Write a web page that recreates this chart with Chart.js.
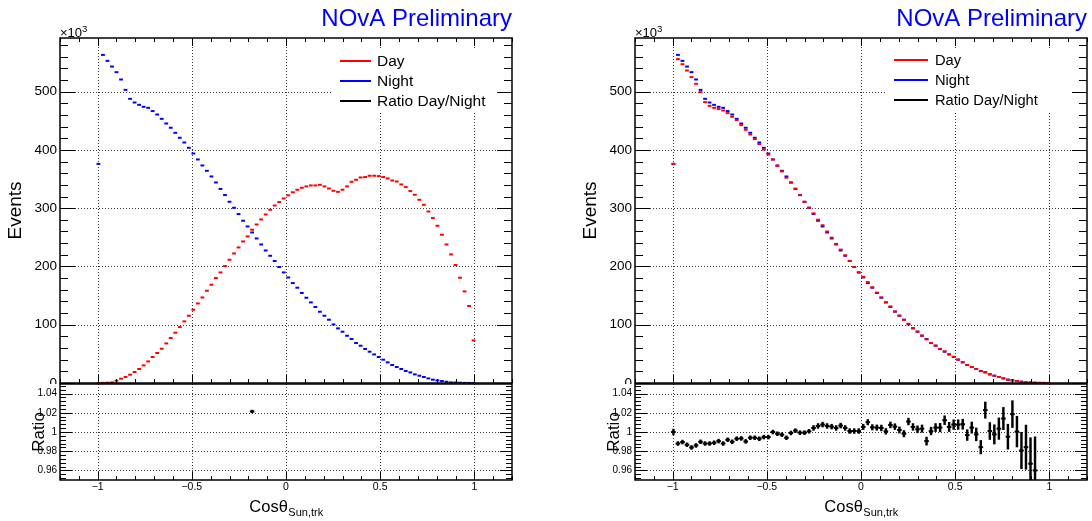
<!DOCTYPE html>
<html>
<head>
<meta charset="utf-8">
<title>Day / Night cos theta</title>
<script src="https://cdn.jsdelivr.net/npm/chart.js@4.4.0/dist/chart.umd.min.js"></script>
<style>
  html, body { margin: 0; padding: 0; background: #fff; overflow: hidden; }
  #page { position: relative; width: 1092px; height: 521px; }
  canvas { position: absolute; }
</style>
</head>
<body>
<div id="page">
  <canvas id="mainLeft" width="575" height="384" style="left:0px;top:0px"></canvas>
  <canvas id="ratioLeft" width="575" height="143" style="left:0px;top:378px"></canvas>
  <canvas id="mainRight" width="517" height="384" style="left:575px;top:0px"></canvas>
  <canvas id="ratioRight" width="517" height="143" style="left:575px;top:378px"></canvas>
</div>
<script>
// histogram binning: 100 bins on [-1.2, 1.2], filled bins start at bin 8 (centre -0.996)
const binLow = -1.2;
const binWidth = 0.024;
const firstFilledBin = 8;

const xTicks = [-1, -0.5, 0, 0.5, 1];
const eventTicks = [0, 100, 200, 300, 400, 500];
const ratioTicks = [0.96, 0.98, 1, 1.02, 1.04];

const legendLabels = ["Day", "Night", "Ratio Day/Night"];
const seriesColors = ["#ff0000", "#0000ff", "#000000"];

// events per bin, in units of 10^3
const nightEvents = [
  376, 563, 552.8, 543, 533.4, 520.8, 503, 487.6, 481.3, 477.3,
  473.9, 472.2, 466.6, 460.7, 453.3, 445.3, 438, 429.3, 420.8, 412.7,
  403.6, 393.8, 383.6, 373.3, 364.1, 354.4, 344.1, 333, 322.5, 311,
  300.7, 289.9, 278.4, 268.6, 258.3, 248, 237.7, 227.4, 218.3, 209.3,
  199, 189.7, 181.1, 171.5, 163.5, 154.4, 146.3, 138.3, 130.4, 122.3,
  115.4, 108.6, 100.5, 93.7, 88, 81.1, 75.5, 68.6, 64, 58.3,
  53.7, 49, 44.6, 40, 35.4, 30.9, 27.4, 24, 20.6, 18.2,
  14.8, 12.5, 10.3, 7.9, 5.7, 4.5, 3.4, 2.2, 1.0, 0.9,
  0.5, 0.2, 0.1, 0
];

// left: raw day sample
const dayEventsLeft = [
  0, 0.2, 0.5, 1.0, 3.9, 7.4, 10.3, 14.2, 18.9, 24,
  30.2, 37, 44.6, 51.5, 58.8, 67.9, 77.2, 86.3, 96, 105.7,
  115.4, 125.7, 136.5, 146.8, 158.3, 168.6, 180.1, 189.7, 200.7, 211.5,
  222.3, 232.6, 242.9, 251.5, 263, 272, 280.6, 289.2, 297.3, 304.6,
  310.5, 316.6, 322, 327.3, 331.6, 335, 337.3, 339, 339, 340,
  337.3, 333.8, 329.8, 328, 331.6, 337.3, 345.3, 348.7, 352.7, 353.4,
  355.6, 355.6, 355, 353.4, 351, 347.5, 345.8, 340.7, 336.2, 329.3,
  323, 314.4, 305.8, 294.3, 283, 269.8, 254.4, 237.7, 220.6, 202.4,
  180.6, 157.1, 132.1, 73
];

// right: day sample after reweighting
const dayEventsRight = [
  376, 555.7, 547, 536.2, 524.9, 513.4, 499.1, 482, 475.6, 472.2,
  470, 467.6, 463.1, 456.8, 451.1, 442.5, 434.5, 426.4, 418.5, 410,
  400.7, 392.1, 383.6, 372.6, 363.1, 352.3, 343.8, 333.5, 322.3, 310.8,
  300.9, 291.1, 280.2, 270.7, 259.9, 249.4, 238.7, 228.9, 219.2, 209.5,
  199.2, 189.9, 182.1, 173.2, 164.3, 155.1, 146.9, 138.4, 131.4, 123.0,
  115.6, 108.4, 101.6, 94.2, 88.2, 81.4, 74.8, 68.7, 64.3, 58.6,
  54.4, 49.3, 44.9, 40.3, 35.7, 30.8, 27.5, 23.9, 20.3, 18.6,
  14.8, 12.5, 10.3, 8.0, 5.7, 4.6, 3.4, 2.2, 1.0, 0.9,
  0.5, 0.3, 0.2, 0.1
];

// Day/Night ratio, right panel (filled bins 0..80)
const ratioRight = [
  1.000, 0.988, 0.9895, 0.9867, 0.9839, 0.986, 0.9898, 0.988, 0.988, 0.9888,
  0.9905, 0.988, 0.9919, 0.9898, 0.993, 0.9933, 0.9902, 0.994, 0.994, 0.993,
  0.9947, 0.9947, 1.000, 0.9982, 0.9972, 0.994, 0.999, 1.0014, 0.9993, 0.9993,
  1.0007, 1.0042, 1.0063, 1.0077, 1.0063, 1.0056, 1.0042, 1.0067, 1.0042, 1.001,
  1.001, 1.001, 1.0053, 1.0102, 1.0049, 1.0046, 1.0042, 1.0007, 1.0074, 1.0056,
  1.0021, 0.9982, 1.0109, 1.0053, 1.0028, 1.0035, 0.9905, 1.001, 1.0046, 1.0046,
  1.0123, 1.0053, 1.0077, 1.0077, 1.0081, 0.9968, 1.0046, 0.9975, 0.9842, 1.0228,
  1.001, 0.9975, 1.0035, 1.014, 0.9951, 1.0186, 1.0004, 0.9807, 0.9842, 0.967,
  0.96
];
const ratioRightErr = [
  0.003, 0.002, 0.002, 0.002, 0.002, 0.002, 0.002, 0.002, 0.002, 0.002,
  0.002, 0.002, 0.002, 0.002, 0.002, 0.002, 0.002, 0.002, 0.002, 0.002,
  0.002, 0.002, 0.002, 0.002, 0.002, 0.002, 0.002, 0.002, 0.002, 0.002,
  0.002, 0.0025, 0.0025, 0.0025, 0.0025, 0.0025, 0.0025, 0.0025, 0.0025, 0.0025,
  0.0025, 0.0025, 0.0028, 0.0028, 0.0028, 0.0028, 0.003, 0.003, 0.003, 0.003,
  0.0032, 0.0033, 0.0035, 0.0035, 0.0036, 0.0038, 0.0042, 0.004, 0.0042, 0.0044,
  0.0046, 0.0048, 0.005, 0.005, 0.0052, 0.0056, 0.0058, 0.0067, 0.007, 0.0084,
  0.0088, 0.010, 0.0112, 0.0116, 0.013, 0.014, 0.016, 0.019, 0.023, 0.027,
  0.035
];

// Day/Night ratio, left panel: only one bin falls inside the 0.95-1.05 window
const ratioLeftBins = [34];
const ratioLeft = [1.0214];
const ratioLeftErr = [0.0014];

const FONT = "'Liberation Sans', Arial, Helvetica, sans-serif";
Chart.defaults.font.family = FONT;
Chart.defaults.color = "#000";
Chart.defaults.animation = false;
Chart.defaults.events = [];
Chart.defaults.plugins.legend.display = false;
Chart.defaults.plugins.tooltip.enabled = false;

function binCentre(j) {
  return binLow + binWidth * (firstFilledBin + j + 0.5);
}

function steps(min, max, step) {
  const out = [];
  for (let k = Math.ceil(min / step - 1e-6); k * step <= max + 1e-9; k++) out.push(k * step);
  return out;
}

function isMajor(v, major) {
  const q = v / major;
  return Math.abs(q - Math.round(q)) < 1e-6;
}

function formatX(v) {
  if (v === 0) return "0";
  return (v < 0 ? "\u2212" : "") + Math.abs(v);
}

// ROOT-like pad: dotted grid, inward ticks, frame, legend and texts
const rootPad = {
  id: "rootPad",
  beforeDatasetsDraw(chart, args, o) {
    const ctx = chart.ctx;
    const a = chart.chartArea;
    const x = chart.scales.x;
    const y = chart.scales.y;
    ctx.save();
    ctx.strokeStyle = "#3a3a3a";
    ctx.lineWidth = 1;
    ctx.setLineDash([1, 2]);
    ctx.beginPath();
    xTicks.forEach(v => {
      const px = Math.round(x.getPixelForValue(v)) + 0.5;
      ctx.moveTo(px, a.top);
      ctx.lineTo(px, a.bottom);
    });
    o.gridY.forEach(v => {
      const py = Math.round(y.getPixelForValue(v)) + 0.5;
      ctx.moveTo(a.left, py);
      ctx.lineTo(a.right, py);
    });
    ctx.stroke();
    ctx.restore();
  },
  afterDatasetsDraw(chart, args, o) {
    const ctx = chart.ctx;
    const a = chart.chartArea;
    const x = chart.scales.x;
    const y = chart.scales.y;
    ctx.save();

    // legend box sits over the grid
    if (o.legend) {
      const L = o.legend;
      ctx.fillStyle = "#fff";
      ctx.fillRect(L.box[0], L.box[1], L.box[2], L.box[3]);
      ctx.font = L.size + "px " + FONT;
      ctx.textAlign = "left";
      ctx.textBaseline = "middle";
      legendLabels.forEach((label, i) => {
        ctx.strokeStyle = seriesColors[i];
        ctx.lineWidth = 2;
        ctx.beginPath();
        ctx.moveTo(L.lineX[0], L.rowY[i]);
        ctx.lineTo(L.lineX[1], L.rowY[i]);
        ctx.stroke();
        ctx.fillStyle = "#000";
        ctx.fillText(label, L.textX, L.rowY[i] + 1);
      });
    }

    // inward ticks
    ctx.strokeStyle = "#000";
    ctx.lineWidth = 1;
    ctx.beginPath();
    steps(x.min, x.max, 0.1).forEach(v => {
      const px = Math.round(x.getPixelForValue(v)) + 0.5;
      const len = isMajor(v, 0.5) ? o.xTick[0] : o.xTick[1];
      ctx.moveTo(px, a.bottom);
      ctx.lineTo(px, a.bottom - len);
      if (o.topTicks) {
        ctx.moveTo(px, a.top);
        ctx.lineTo(px, a.top + len);
      }
    });
    steps(y.min, y.max, o.yMinor).forEach(v => {
      const py = Math.round(y.getPixelForValue(v)) + 0.5;
      const len = isMajor(v, o.yMajor) ? o.yTick[0] : o.yTick[1];
      ctx.moveTo(a.left, py);
      ctx.lineTo(a.left + len, py);
      ctx.moveTo(a.right, py);
      ctx.lineTo(a.right - len, py);
    });
    ctx.stroke();

    ctx.lineWidth = 1.5;
    ctx.strokeRect(a.left, a.top, a.right - a.left, a.bottom - a.top);

    // plain and rotated texts
    (o.texts || []).forEach(t => {
      ctx.save();
      ctx.fillStyle = t.color || "#000";
      ctx.font = t.size + "px " + FONT;
      ctx.textAlign = t.align || "left";
      ctx.textBaseline = t.baseline || "alphabetic";
      ctx.translate(t.x, t.y);
      if (t.rotate) ctx.rotate(-Math.PI / 2);
      ctx.fillText(t.text, 0, 0);
      ctx.restore();
    });

    // x10^3 multiplier
    if (o.exponent) {
      const e = o.exponent;
      ctx.fillStyle = "#000";
      ctx.textAlign = "left";
      ctx.textBaseline = "alphabetic";
      ctx.font = "13px " + FONT;
      ctx.fillText("\u00d710", e.x, e.y);
      const w = ctx.measureText("\u00d710").width;
      ctx.font = "9.5px " + FONT;
      ctx.fillText("3", e.x + w, e.y - 5.5);
    }

    // Cos theta_{Sun,trk}
    if (o.xTitle) {
      const t = o.xTitle;
      ctx.fillStyle = "#000";
      ctx.textAlign = "left";
      ctx.textBaseline = "alphabetic";
      ctx.font = "16.5px " + FONT;
      const w1 = ctx.measureText("Cos\u03b8").width;
      ctx.font = "11px " + FONT;
      const w2 = ctx.measureText("Sun,trk").width;
      const x0 = t.x - (w1 + w2) / 2;
      ctx.font = "16.5px " + FONT;
      ctx.fillText("Cos\u03b8", x0, t.y);
      ctx.font = "11px " + FONT;
      ctx.fillText("Sun,trk", x0 + w1 + 0.5, t.y + 4.5);
    }
    ctx.restore();
  }
};

function histDataset(label, values, color) {
  return {
    label: label,
    data: values.map((v, j) => ({ x: binCentre(j), y: v })),
    pointStyle: "line",
    pointRadius: 1.9,
    pointBorderWidth: 2,
    pointBorderColor: color,
    pointBackgroundColor: color,
    borderColor: color,
    showLine: false
  };
}

function yAxis(min, max, ticks, size, fmt) {
  return {
    type: "linear",
    min: min,
    max: max,
    offset: false,
    grid: { display: false, drawTicks: false },
    border: { display: false },
    afterBuildTicks: ax => { ax.ticks = ticks.map(value => ({ value })); },
    afterFit: ax => { ax.width = 60; ax.paddingTop = 0; ax.paddingBottom = 0; },
    ticks: { font: { size: size }, color: "#000", padding: 3, autoSkip: false, callback: fmt }
  };
}

function mainPanel(id, dayValues, padRight, legend) {
  return new Chart(document.getElementById(id), {
    type: "scatter",
    data: {
      datasets: [
        histDataset(legendLabels[0], dayValues, seriesColors[0]),
        histDataset(legendLabels[1], nightEvents, seriesColors[1])
      ]
    },
    options: {
      responsive: false,
      layout: { padding: { top: 38, right: padRight, bottom: 1, left: 0 }, autoPadding: false },
      scales: {
        x: { type: "linear", min: -1.2, max: 1.2, offset: false, display: false },
        y: yAxis(0, 592, eventTicks, 13.5, v => String(v))
      },
      plugins: {
        rootPad: {
          gridY: eventTicks.slice(1),
          xTick: [8, 4],
          yTick: [15, 8],
          yMinor: 20,
          yMajor: 100,
          topTicks: true,
          legend: legend,
          exponent: { x: 60, y: 37 },
          texts: [
            { text: "NOvA Preliminary", x: 512, y: 26, size: 24, color: "#0000ff", align: "right" },
            { text: "Events", x: 16, y: 210.5, size: 19, align: "center", baseline: "middle", rotate: true }
          ]
        }
      }
    },
    plugins: [rootPad]
  });
}

function ratioPanel(id, bins, values, errors, padRight) {
  const centres = bins.map(binCentre);
  const points = values.map((r, i) => ({ x: centres[i], y: r }));
  return new Chart(document.getElementById(id), {
    type: "scatter",
    data: {
      datasets: [
        {
          type: "bar",
          label: legendLabels[2],
          data: values.map((r, i) => ({ x: centres[i], y: [r - errors[i], r + errors[i]] })),
          backgroundColor: seriesColors[2],
          borderWidth: 0,
          barThickness: 1.8,
          grouped: false
        },
        {
          label: legendLabels[2],
          data: points,
          pointStyle: "line",
          pointRadius: 2.3,
          pointBorderWidth: 2,
          pointBorderColor: seriesColors[2]
        },
        {
          label: legendLabels[2],
          data: points,
          pointStyle: "circle",
          pointRadius: 1.3,
          pointBorderWidth: 0,
          pointBackgroundColor: seriesColors[2]
        }
      ]
    },
    options: {
      responsive: false,
      layout: { padding: { top: 6, right: padRight, bottom: 0, left: 0 }, autoPadding: false },
      scales: {
        x: {
          type: "linear",
          min: -1.2,
          max: 1.2,
          offset: false,
          grid: { display: false, drawTicks: false },
          border: { display: false },
          afterBuildTicks: ax => { ax.ticks = xTicks.map(value => ({ value })); },
          afterFit: ax => { ax.height = 41; ax.paddingLeft = 0; ax.paddingRight = 0; },
          ticks: { font: { size: 10.5 }, color: "#000", padding: 1, autoSkip: false, maxRotation: 0, callback: formatX }
        },
        y: yAxis(0.95, 1.05, ratioTicks, 10, v => (v === 1 ? "1" : v.toFixed(2)))
      },
      plugins: {
        rootPad: {
          gridY: ratioTicks,
          xTick: [8, 4],
          yTick: [12, 6],
          yMinor: 0.004,
          yMajor: 0.02,
          topTicks: false,
          xTitle: { x: 286, y: 133.5 },
          texts: [
            { text: "Ratio", x: 39, y: 54, size: 17, align: "center", baseline: "middle", rotate: true }
          ]
        }
      }
    },
    plugins: [rootPad]
  });
}

mainPanel("mainLeft", dayEventsLeft, 63, {
  box: [333, 49, 178, 63], lineX: [340, 371], textX: 377, rowY: [61, 81, 101], size: 15.5
});
ratioPanel("ratioLeft", ratioLeftBins, ratioLeft, ratioLeftErr, 63);

mainPanel("mainRight", dayEventsRight, 5, {
  box: [312, 48, 198, 63], lineX: [319, 353], textX: 360, rowY: [60, 80, 100], size: 14.7
});
ratioPanel("ratioRight", ratioRight.map((_, j) => j), ratioRight, ratioRightErr, 5);
</script>
</body>
</html>
